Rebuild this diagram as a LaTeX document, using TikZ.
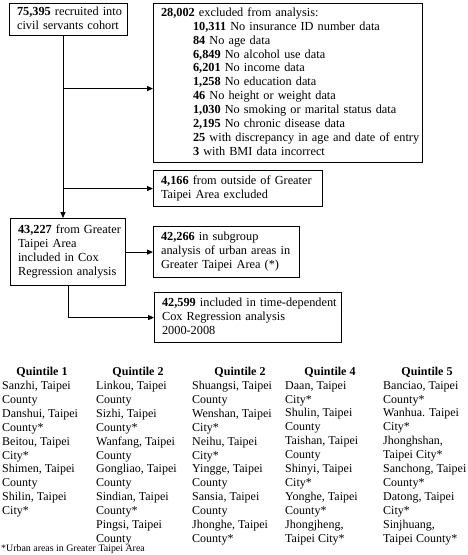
\documentclass[tikz,border=0pt]{standalone}
\usepackage{fontspec}
\setmainfont{Liberation Serif}
\usetikzlibrary{arrows.meta,positioning}
\newcommand{\flowlines}[1]{\begin{tabular}{@{}l@{}}#1\end{tabular}}
\tikzset{
  x=1pt, y=-1pt,
  flow_n/.style = {draw=black, line width=1.1pt, anchor=north west, align=left,
    inner xsep=7.5pt, inner ysep=2pt, font=\fontsize{12.3}{13.9}\selectfont},
  list_n/.style = {anchor=north west, align=left, inner sep=0pt, font=\fontsize{12}{13.9}\selectfont},
  head_n/.style = {inner sep=0pt, font=\fontsize{12}{13.9}\selectfont\bfseries},
  note_n/.style = {anchor=west, inner sep=0pt, font=\fontsize{9.9}{10}\selectfont},
  arr/.style = {line width=1pt, -{Triangle[length=6pt,width=5pt]}}
}

\begin{document}
\begin{tikzpicture}
	\useasboundingbox (0,0) rectangle (467,555);
	% flow chart
	\node [flow_n, text width=103pt, minimum height=30pt] (recruit) at (9,3)
		{\flowlines{\textbf{75,395} recruited into\\civil servants cohort}};
	\node [flow_n, text width=254pt, minimum height=159pt] (excl) at (153,3)
		{\flowlines{\textbf{28,002} excluded from analysis:\\
		\hspace*{32pt}\textbf{10,311} No insurance ID number data\\
		\hspace*{32pt}\textbf{84} No age data\\
		\hspace*{32pt}\textbf{6,849} No alcohol use data\\
		\hspace*{32pt}\textbf{6,201} No income data\\
		\hspace*{32pt}\textbf{1,258} No education data\\
		\hspace*{32pt}\textbf{46} No height or weight data\\
		\hspace*{32pt}\textbf{1,030} No smoking or marital status data\\
		\hspace*{32pt}\textbf{2,195} No chronic disease data\\
		\hspace*{32pt}\textbf{25} with discrepancy in age and date of entry\\
		\hspace*{32pt}\textbf{3} with BMI data incorrect}};
	\node [flow_n, text width=154pt, minimum height=36pt] (outside) at (153,170)
		{\flowlines{\textbf{4,166} from outside of Greater\\Taipei Area excluded}};
	\node [flow_n, text width=100pt, minimum height=67pt] (taipei) at (10,218)
		{\flowlines{\textbf{43,227} from Greater\\Taipei Area\\included in Cox\\Regression analysis}};
	\node [flow_n, text width=131pt, minimum height=51pt] (urban) at (153,226)
		{\flowlines{\textbf{42,266} in subgroup\\analysis of urban areas in\\Greater Taipei Area (*)}};
	\node [flow_n, text width=172pt, minimum height=50pt] (timedep) at (154,292)
		{\flowlines{\textbf{42,599} included in time-dependent\\Cox Regression analysis\\2000-2008}};
	\coordinate (trunk) at (63,0);
	\draw [line width=1pt] (trunk |- recruit.south) -- (trunk |- excl.west);
	\draw [arr] ([yshift=-5.5pt]trunk |- excl.west) -- ([yshift=-5.5pt]excl.west);
	\draw [arr] (trunk |- outside.west) -- (outside.west);
	\draw [arr] (trunk |- recruit.south) -- (trunk |- taipei.north);
	\draw [arr] (taipei.east) -- (urban.west);
	\draw [arr] (taipei.south) |- (timedep.west);
	% quintiles
	\node [head_n] (h1) at (42,372) {Quintile 1};
	\node [head_n] (h2) at (138,372) {Quintile 2};
	\node [head_n] (h3) at (240,372) {Quintile 2};
	\node [head_n] (h4) at (330,372) {Quintile 4};
	\node [head_n] (h5) at (427,372) {Quintile 5};
	\node [list_n] (q1) at (2,381)
		{Sanzhi, Taipei\\County\\Danshui, Taipei\\County*\\Beitou, Taipei\\City*\\Shimen, Taipei\\County\\Shilin, Taipei\\City*};
	\node [list_n] (q2) at (96,381)
		{Linkou, Taipei\\County\\Sizhi, Taipei\\County*\\Wanfang, Taipei\\County\\Gongliao, Taipei\\County\\Sindian, Taipei\\County*\\Pingsi, Taipei\\County};
	\node [list_n] (q3) at (192,381)
		{Shuangsi, Taipei\\County\\Wenshan, Taipei\\City*\\Neihu, Taipei\\City*\\Yingge, Taipei\\County\\Sansia, Taipei\\County\\Jhonghe, Taipei\\County*};
	\node [list_n] (q4) at (285,381)
		{Daan, Taipei\\City*\\Shulin, Taipei\\County\\Taishan, Taipei\\County\\Shinyi, Taipei\\City*\\Yonghe, Taipei\\County*\\Jhongjheng,\\Taipei City*};
	\node [list_n] (q5) at (383,381)
		{Banciao, Taipei\\County*\\Wanhua. Taipei\\City*\\Jhonghshan,\\Taipei City*\\Sanchong, Taipei\\County*\\Datong, Taipei\\City*\\Sinjhuang,\\Taipei County*};
	\node [note_n] (note) at (1,549) {*Urban areas in Greater Taipei Area};
\end{tikzpicture}
\end{document}
